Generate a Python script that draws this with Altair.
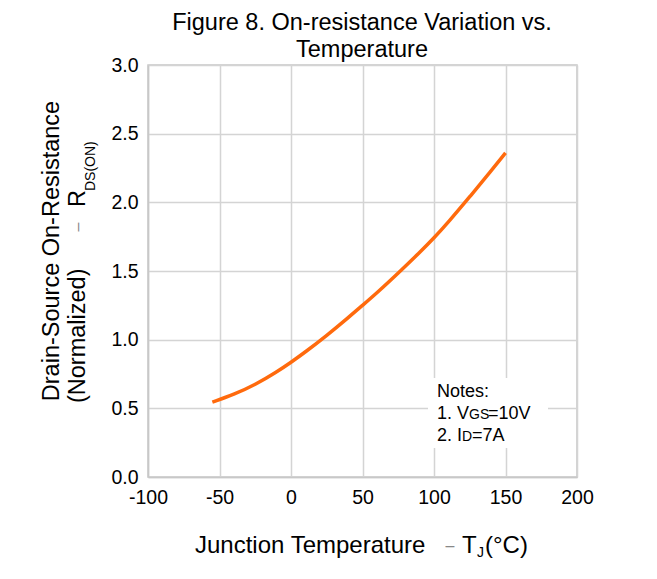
import altair as alt
import pandas as pd

FONT = "Liberation Sans"

temp_c = [-55, -40, -25, -10, 0, 10, 25, 40, 50, 60, 75, 90, 100, 110, 125, 140, 150]
rds_norm = [0.545, 0.60, 0.672, 0.765, 0.835, 0.91, 1.03, 1.16, 1.25, 1.34, 1.485, 1.635, 1.74, 1.855, 2.04, 2.23, 2.36]

x_ticks = [-100, -50, 0, 50, 100, 150, 200]
y_ticks = [0.0, 0.5, 1.0, 1.5, 2.0, 2.5, 3.0]

title_lines = ["Figure 8. On-resistance Variation vs.", "Temperature"]

df = pd.DataFrame({"T": temp_c, "R": rds_norm})

GRID = "#d4d4d4"

line = alt.Chart(df).mark_line(color="#ff6a0d", strokeWidth=3.5, interpolate="basis").encode(
    x=alt.X("T:Q", scale=alt.Scale(domain=[-100, 200], nice=False),
            axis=alt.Axis(values=x_ticks, title=None, labelPadding=11, ticks=False, labelFlush=False,
                          labelExpr="datum.value < 0 ? '-' + abs(datum.value) : '' + datum.value")),
    y=alt.Y("R:Q", scale=alt.Scale(domain=[0, 3], nice=False),
            axis=alt.Axis(values=y_ticks, title=None, format=".1f", labelPadding=10, ticks=False)),
)


def label(txt, x, y, size=23.5, align="left", angle=0, color="black", baseline="alphabetic"):
    return alt.Chart(alt.Data(values=[{}])).mark_text(
        text=txt, fontSize=size, align=align, angle=angle, color=color,
        baseline=baseline, font=FONT
    ).encode(x=alt.value(x), y=alt.value(y))


notes_bg = alt.Chart(alt.Data(values=[{}])).mark_rect(color="white").encode(
    x=alt.value(280), x2=alt.value(400), y=alt.value(313), y2=alt.value(383)
)

layers = [
    line,
    notes_bg,
    # title
    label(title_lines[0], 214, -35, size=23.5, align="center"),
    label(title_lines[1], 214, -8, size=23.5, align="center"),
    # notes
    label("Notes:", 289, 332, size=18),
    label("1. V", 289, 354, size=18),
    label("GS", 321, 354, size=14),
    label("=10V", 340, 354, size=18),
    label("2. I", 289, 376, size=18),
    label("D", 314, 376, size=14),
    label("=7A", 324, 376, size=18),
    # x axis title
    label("Junction Temperature", 47, 488, size=24),
    label("–", 302, 486, size=16, align="center", color="#888888"),
    label("T", 314, 488, size=24),
    label("J", 329, 492, size=14),
    label("(°C)", 337, 488, size=24),
    # y axis title
    label("Drain-Source On-Resistance", -96, 186, angle=270, align="center", baseline="middle"),
    label("(Normalized)", -70, 338, angle=270, align="left", baseline="middle"),
    label("–", -70, 162, size=16, angle=270, align="center", baseline="middle", color="#888888"),
    label("R", -70, 142, angle=270, align="left", baseline="middle"),
    label("DS(ON)", -57, 126, size=14, angle=270, align="left", baseline="middle"),
]

chart = alt.layer(*layers).properties(
    width=429,
    height=412,
    autosize=alt.AutoSizeParams(type="none"),
    padding={"left": 140, "top": 57, "right": 72, "bottom": 94},
).configure_view(
    stroke="#c8c8c8", strokeWidth=1.5
).configure_axis(
    grid=True, gridColor=GRID, gridWidth=1.5, domainColor="#c8c8c8", domainWidth=1.5,
    labelFont=FONT, labelFontSize=19.5, labelColor="black",
)

chart.save("out.html", embed_options={"renderer": "svg", "actions": False})
